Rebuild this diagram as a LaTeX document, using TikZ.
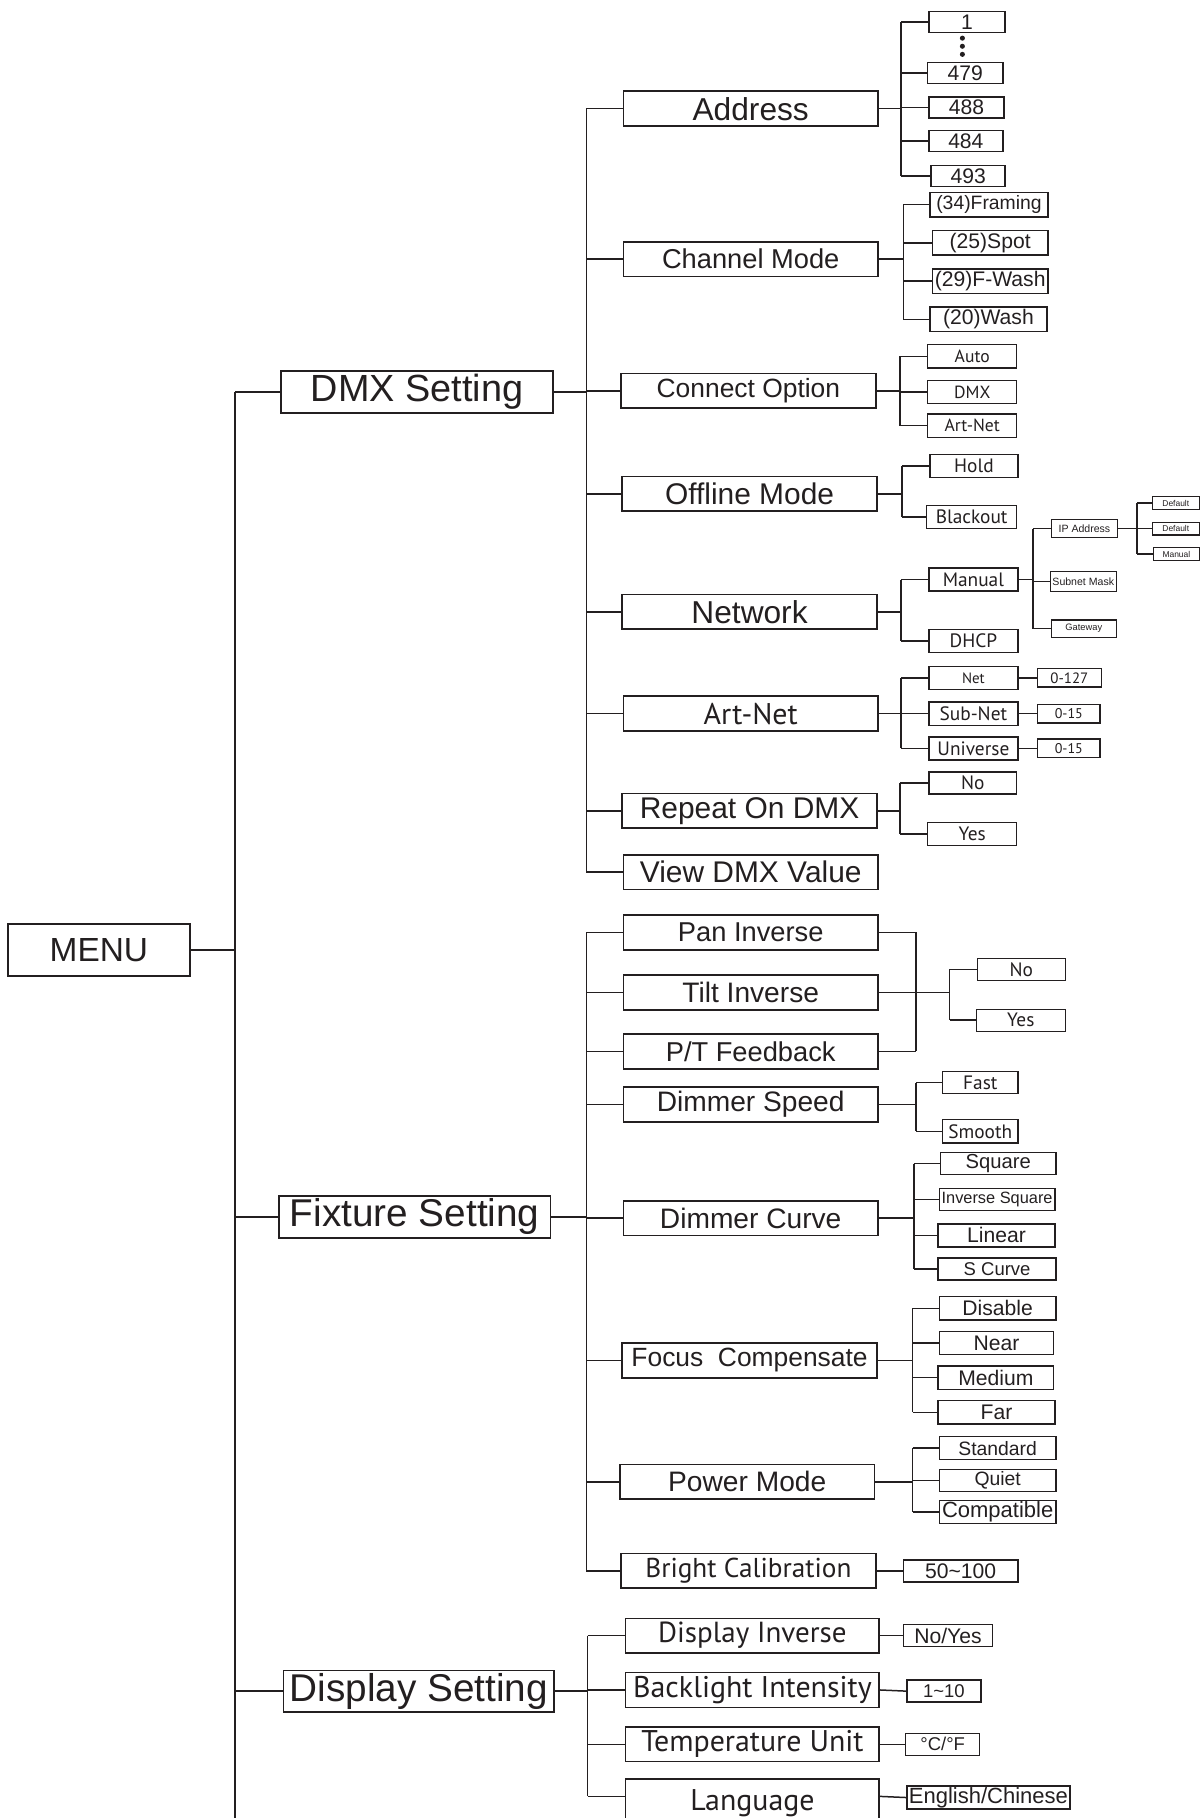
\documentclass[tikz,border=0pt]{standalone}
\usepackage{fontspec}
\setmainfont{Liberation Sans}
\newfontfamily\hum{PT Sans}
\definecolor{ink}{HTML}{231F20}
\newcommand\pxu{0.0231cm}
\tikzset{
	box/.style = {draw=ink, text=ink, line width=0.8pt, inner sep=0pt, minimum width=#1*\pxu},
	hgt/.style = {minimum height=#1*\pxu},
	fs/.style = {font=\fontsize{#1}{#1}\selectfont},
	hs/.style = {font=\hum\fontsize{#1}{#1}\selectfont},
	top/.style = {box=235, hgt=36, line width=1pt},
	mid/.style = {box=220, hgt=30, line width=1pt},
	tiny/.style = {box=#1, line width=0.6pt},
	wire/.style = {draw=ink, line width=0.85pt}
}

\begin{document}
\begin{tikzpicture}[x=\pxu, y=-\pxu]
	\useasboundingbox (0,0) rectangle (1040,1571.7);
	\clip (0,0) rectangle (1040,1571.7);
	% ====== Menu ========
	\node[box=157, hgt=45, line width=1pt, fs=19] (menu) at (85.5,821.5) {MENU};
	\node[top, fs=21.5] (dmx) at (360.5,339) {DMX Setting};
	\node[top, fs=22] (fix) at (358.5,1052) {Fixture Setting};
	\node[top, box=234, fs=22] (disp) at (362,1462) {Display Setting};
	\coordinate (j0) at (203,821.5);
	\coordinate (tail) at (203,1580);
	\draw[wire] (menu) -- (j0);
	\draw[wire] (j0 |- dmx) -- (tail);
	\foreach \n in {dmx,fix,disp} {\draw[wire] (j0 |- \n) -- (\n.west);}

	% ====== DMX Setting ========
	\node[mid, fs=18] (addr) at (649,94) {Address};
	\node[mid, fs=15.5] (chan) at (649,224) {Channel Mode};
	\node[mid, fs=15] (conn) at (647,338) {Connect Option};
	\node[mid, fs=17] (offl) at (648,427) {Offline Mode};
	\node[mid, fs=18] (netw) at (648,529) {Network};
	\node[mid, hs=17] (artn) at (649,617) {Art-Net};
	\node[mid, fs=17] (rep) at (648,701) {Repeat On DMX};
	\node[mid, fs=17] (view) at (649,754) {View DMX Value};
	\coordinate (jdmx) at (507,339);
	\draw[wire] (dmx.east) -- (jdmx);
	\draw[wire] (jdmx |- addr) -- (jdmx |- view);
	\foreach \n in {addr,chan,conn,offl,netw,artn,rep,view} {\draw[wire] (jdmx |- \n) -- (\n.west);}

	% -- address
	\node[box=66, hgt=18, fs=12] (a1) at (836,19) {1};
	\node[box=65, hgt=18, fs=12] (a2) at (834.5,63) {479};
	\node[box=65, hgt=18, fs=12] (a3) at (835.5,93) {488};
	\node[box=64, hgt=18, fs=12] (a4) at (835,122) {484};
	\node[box=64, hgt=18, fs=12] (a5) at (837,152) {493};
	\foreach \y in {33,40,47} {\fill[ink] (832,\y) circle (2.2);}
	\coordinate (jaddr) at (779,94);
	\draw[wire] (addr.east) -- (jaddr);
	\draw[wire] (jaddr |- a1) -- (jaddr |- a5);
	\foreach \i in {1,...,5} {\draw[wire] (jaddr |- a\i) -- (a\i.west);}

	% -- channel mode
	\node[box=102, hgt=21, fs=11] (c1) at (855,177) {(34)Framing};
	\node[box=100, hgt=21, fs=12] (c2) at (856,210) {(25)Spot};
	\node[box=100, hgt=21, fs=12] (c3) at (856,243) {(29)F-Wash};
	\node[box=101, hgt=21, fs=12] (c4) at (854.5,276) {(20)Wash};
	\coordinate (jchan) at (781,224);
	\draw[wire] (chan.east) -- (jchan);
	\draw[wire] (jchan |- c1) -- (jchan |- c4);
	\foreach \i in {1,...,4} {\draw[wire] (jchan |- c\i) -- (c\i.west);}

	% -- connect option
	\node[box=77, hgt=20, hs=10] (o1) at (840.5,308) {Auto};
	\node[box=77, hgt=20, hs=10] (o2) at (840.5,339) {DMX};
	\node[box=77, hgt=20, hs=10] (o3) at (840.5,368) {Art-Net};
	\coordinate (jconn) at (778,338);
	\draw[wire] (conn.east) -- (jconn);
	\draw[wire] (jconn |- o1) -- (jconn |- o3);
	\foreach \i in {1,2,3} {\draw[wire] (jconn |- o\i) -- (o\i.west);}

	% -- offline mode
	\node[box=76, hgt=20, hs=11] (f1) at (842,403) {Hold};
	\node[box=78, hgt=20, hs=11] (f2) at (840,447) {Blackout};
	\coordinate (joffl) at (780,427);
	\draw[wire] (offl.east) -- (joffl);
	\draw[wire] (joffl |- f1) -- (joffl |- f2);
	\foreach \i in {1,2} {\draw[wire] (joffl |- f\i) -- (f\i.west);}

	% -- network
	\node[box=77, hgt=20, hs=11] (n1) at (841.5,501) {Manual};
	\node[box=77, hgt=20, hs=11] (n2) at (841.5,554) {DHCP};
	\coordinate (jnetw) at (779,529);
	\draw[wire] (netw.east) -- (jnetw);
	\draw[wire] (jnetw |- n1) -- (jnetw |- n2);
	\foreach \i in {1,2} {\draw[wire] (jnetw |- n\i) -- (n\i.west);}

	\node[tiny=57, hgt=16, fs=6] (m1) at (937.5,457) {IP Address};
	\node[tiny=57, hgt=17, fs=6] (m2) at (936.5,502.5) {Subnet Mask};
	\node[tiny=56, hgt=15, fs=5.3] (m3) at (937,543.5) {Gateway};
	\coordinate (jman) at (893,501);
	\draw[wire] (n1.east) -- (jman);
	\draw[wire] (jman |- m1) -- (jman |- m3);
	\foreach \i in {1,2,3} {\draw[wire] (jman |- m\i) -- (m\i.west);}

	\node[tiny=41, hgt=11, fs=4.8] (i1) at (1016.5,435) {Default};
	\node[tiny=41, hgt=11, fs=4.8] (i2) at (1016.5,457) {Default};
	\node[tiny=40, hgt=11, fs=4.8] (i3) at (1017,479) {Manual};
	\coordinate (jip) at (983,457);
	\draw[wire] (m1.east) -- (jip);
	\draw[wire] (jip |- i1) -- (jip |- i3);
	\foreach \i in {1,2,3} {\draw[wire] (jip |- i\i) -- (i\i.west);}

	% -- art-net
	\node[box=77, hgt=20, hs=8.5] (r1) at (841.5,586) {Net};
	\node[box=77, hgt=20, hs=11] (r2) at (841.5,617) {Sub-Net};
	\node[box=77, hgt=20, hs=11] (r3) at (841.5,647) {Universe};
	\node[box=55, hgt=16, hs=8.5] (v1) at (924.5,586) {0-127};
	\node[box=54, hgt=16, hs=8] (v2) at (924,617) {0-15};
	\node[box=54, hgt=16, hs=8] (v3) at (924,647) {0-15};
	\coordinate (jartn) at (779,617);
	\draw[wire] (artn.east) -- (jartn);
	\draw[wire] (jartn |- r1) -- (jartn |- r3);
	\foreach \i in {1,2,3} {
		\draw[wire] (jartn |- r\i) -- (r\i.west);
		\draw[wire] (r\i.east) -- (v\i.west);
	}

	% -- repeat on dmx
	\node[box=76, hgt=19, hs=11] (p1) at (841,677) {No};
	\node[box=77, hgt=20, hs=11] (p2) at (840.5,721) {Yes};
	\coordinate (jrep) at (778,701);
	\draw[wire] (rep.east) -- (jrep);
	\draw[wire] (jrep |- p1) -- (jrep |- p2);
	\foreach \i in {1,2} {\draw[wire] (jrep |- p\i) -- (p\i.west);}

	% ====== Fixture Setting ========
	\node[mid, fs=15.5] (pan) at (649,806) {Pan Inverse};
	\node[mid, fs=16] (tilt) at (649,858) {Tilt Inverse};
	\node[mid, fs=15.5] (ptf) at (649,909) {P/T Feedback};
	\node[mid, fs=16] (spd) at (649,955) {Dimmer Speed};
	\node[mid, fs=16] (crv) at (649,1053) {Dimmer Curve};
	\node[mid, fs=15] (foc) at (648,1176) {Focus\ \ Compensate};
	\node[mid, fs=16] (pow) at (646,1281) {Power Mode};
	\node[mid, hs=15.5] (brt) at (647,1358) {Bright Calibration};
	\coordinate (jfix) at (507,1052);
	\draw[wire] (fix.east) -- (jfix);
	\draw[wire] (jfix |- pan) -- (jfix |- brt);
	\foreach \n in {pan,tilt,ptf,spd,crv,foc,pow,brt} {\draw[wire] (jfix |- \n) -- (\n.west);}

	% -- pan / tilt / feedback
	\node[box=76, hgt=19, hs=11] (y1) at (883,838) {No};
	\node[box=77, hgt=19, hs=11] (y2) at (882.5,882) {Yes};
	\coordinate (jpt) at (792,858);
	\coordinate (jyn) at (821,858);
	\draw[wire] (jpt |- pan) -- (jpt |- ptf);
	\foreach \n in {pan,tilt,ptf} {\draw[wire] (\n.east) -- (jpt |- \n);}
	\draw[wire] (jpt) -- (jyn);
	\draw[wire] (jyn |- y1) -- (jyn |- y2);
	\foreach \i in {1,2} {\draw[wire] (jyn |- y\i) -- (y\i.west);}

	% -- dimmer speed
	\node[box=65, hgt=19, hs=11] (s1) at (847.5,936) {Fast};
	\node[box=65, hgt=20, hs=11] (s2) at (847.5,978) {Smooth};
	\coordinate (jspd) at (792,955);
	\draw[wire] (spd.east) -- (jspd);
	\draw[wire] (jspd |- s1) -- (jspd |- s2);
	\foreach \i in {1,2} {\draw[wire] (jspd |- s\i) -- (s\i.west);}

	% -- dimmer curve
	\node[box=100, hgt=19, fs=11.5] (k1) at (863,1006) {Square};
	\node[box=100, hgt=19, fs=9.3] (k2) at (862,1037) {Inverse Square};
	\node[box=101, hgt=20, fs=12] (k3) at (861.5,1068) {Linear};
	\node[box=102, hgt=19, fs=10.5] (k4) at (862,1097) {S Curve};
	\coordinate (jcrv) at (790,1053);
	\draw[wire] (crv.east) -- (jcrv);
	\draw[wire] (jcrv |- k1) -- (jcrv |- k4);
	\foreach \i in {1,...,4} {\draw[wire] (jcrv |- k\i) -- (k\i.west);}

	% -- focus compensate
	\node[box=101, hgt=20, fs=12] (g1) at (862.5,1131) {Disable};
	\node[box=99, hgt=20, fs=12] (g2) at (861.5,1161) {Near};
	\node[box=100, hgt=20, fs=12] (g3) at (861,1191) {Medium};
	\node[box=101, hgt=20, fs=12] (g4) at (861.5,1221) {Far};
	\coordinate (jfoc) at (789,1176);
	\draw[wire] (foc.east) -- (jfoc);
	\draw[wire] (jfoc |- g1) -- (jfoc |- g4);
	\foreach \i in {1,...,4} {\draw[wire] (jfoc |- g\i) -- (g\i.west);}

	% -- power mode
	\node[box=101, hgt=20, fs=11] (w1) at (862.5,1252) {Standard};
	\node[box=101, hgt=19, fs=11] (w2) at (862.5,1280) {Quiet};
	\node[box=101, hgt=20, fs=12.5] (w3) at (862.5,1307) {Compatible};
	\coordinate (jpow) at (789,1281);
	\draw[wire] (pow.east) -- (jpow);
	\draw[wire] (jpow |- w1) -- (jpow |- w3);
	\foreach \i in {1,2,3} {\draw[wire] (jpow |- w\i) -- (w\i.west);}

	% -- bright calibration
	\node[box=99, hgt=19, fs=12] (b1) at (830.5,1358) {50\textasciitilde100};
	\draw[wire] (brt.east) -- (b1.west);

	% ====== Display Setting ========
	\node[mid, box=219, hs=16.5] (dinv) at (650.5,1414) {Display Inverse};
	\node[mid, box=219, hs=17] (blit) at (650.5,1461) {Backlight Intensity};
	\node[mid, box=219, hs=17] (temp) at (650.5,1508) {Temperature Unit};
	\node[mid, box=219, hgt=44, hs=17] (lang) at (650.5,1560) {\raisebox{0.16cm}{Language}};
	\coordinate (langc) at (650.5,1553);
	\coordinate (jdisp) at (508,1462);
	\draw[wire] (disp.east) -- (jdisp);
	\draw[wire] (jdisp |- dinv) -- (jdisp |- langc);
	\foreach \n in {dinv,blit,temp} {\draw[wire] (jdisp |- \n) -- (\n.west);}
	\draw[wire] (jdisp |- langc) -- (langc -| lang.west);

	\node[box=77, hgt=19, fs=12] (d1) at (819.5,1414) {No/Yes};
	\node[box=64, hgt=19, fs=10.5] (d2) at (816,1462) {1\textasciitilde10};
	\node[box=64, hgt=19, fs=10.5] (d3) at (815,1508) {°C/°F};
	\node[box=141, hgt=20, fs=12.5] (d4) at (854.5,1554) {English/Chinese};
	\foreach \n/\m in {dinv/d1,blit/d2,temp/d3} {\draw[wire] (\n.east) -- (\m.west);}
	\draw[wire] (langc -| lang.east) -- (d4.west);
\end{tikzpicture}
\end{document}
